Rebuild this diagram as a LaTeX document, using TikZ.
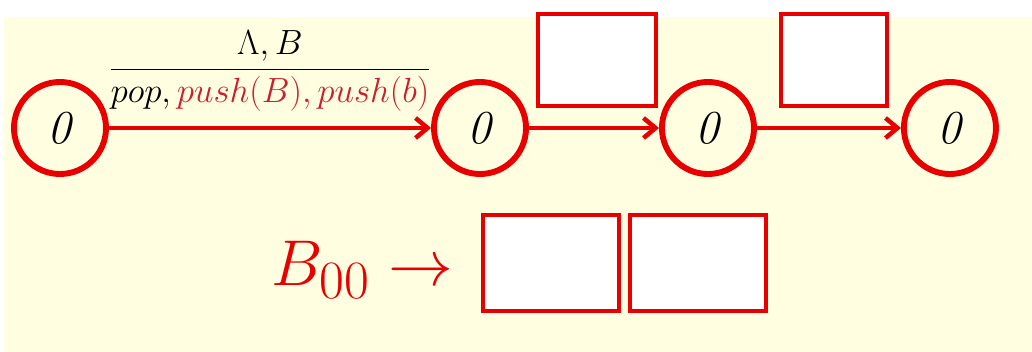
\documentclass[tikz,border=0pt]{standalone}
\usepackage{amsmath}
\usepackage{graphicx}
\usepackage{tikz}
\usetikzlibrary{arrows.meta,positioning,calc}
\definecolor{stateRed}{RGB}{232,0,0}
\definecolor{opRed}{RGB}{205,30,45}
\definecolor{slideCream}{RGB}{255,254,225}

\begin{document}
\begin{tikzpicture}[
  x=0.025cm, y=-0.025cm,
  node distance=3.3cm,
  state/.style={
    circle,
    draw=stateRed,
    line width=4.2pt,
    minimum size=2.3cm,
    inner sep=0pt,
    font=\Huge
  },
  slot/.style={
    draw=stateRed,
    line width=2.8pt,
    fill=white,
    minimum height=2.3cm,
    inner sep=0pt
  },
  arrow/.style={-{Straight Barb[length=3mm,width=5mm]},line width=3.2pt,stateRed}
]
\useasboundingbox (0,0) rectangle (1032,352);
\fill[slideCream] (4,17) rectangle (1032,352);

% states
\node[state] (s0) at (60,128) {\scalebox{1.35}{\textit{0}}};
\node[state,right=8.05cm of s0] (s1) {\scalebox{1.35}{\textit{0}}};
\node[state,right=3.25cm of s1] (s2) {\scalebox{1.35}{\textit{0}}};
\node[state,right=3.6cm of s2] (s3) {\scalebox{1.35}{\textit{0}}};

\draw[arrow] (s0) -- node[above=7pt,font=\huge,text=black] (lbl)
  {\scalebox{1.2}{$\dfrac{\Lambda, B}{pop, \textcolor{opRed}{push(B), push(b)}}$}} (s1);
\draw[arrow] (s1) -- (s2);
\draw[arrow] (s2) -- (s3);

% empty slots
\node[slot,minimum width=2.93cm] (topA) at (597,60) {};
\node[slot,minimum width=2.65cm] (topB) at (834,60) {};

\node[text=stateRed,font=\Huge] (bvar) at (362,270)
  {\scalebox{1.85}{$B_{00}\rightarrow$}};
\node[slot,minimum width=3.4cm,minimum height=2.4cm] (cellA) at (551,263) {};
\node[slot,minimum width=3.4cm,minimum height=2.4cm,right=0.17cm of cellA] (cellB) {};
\end{tikzpicture}
\end{document}
